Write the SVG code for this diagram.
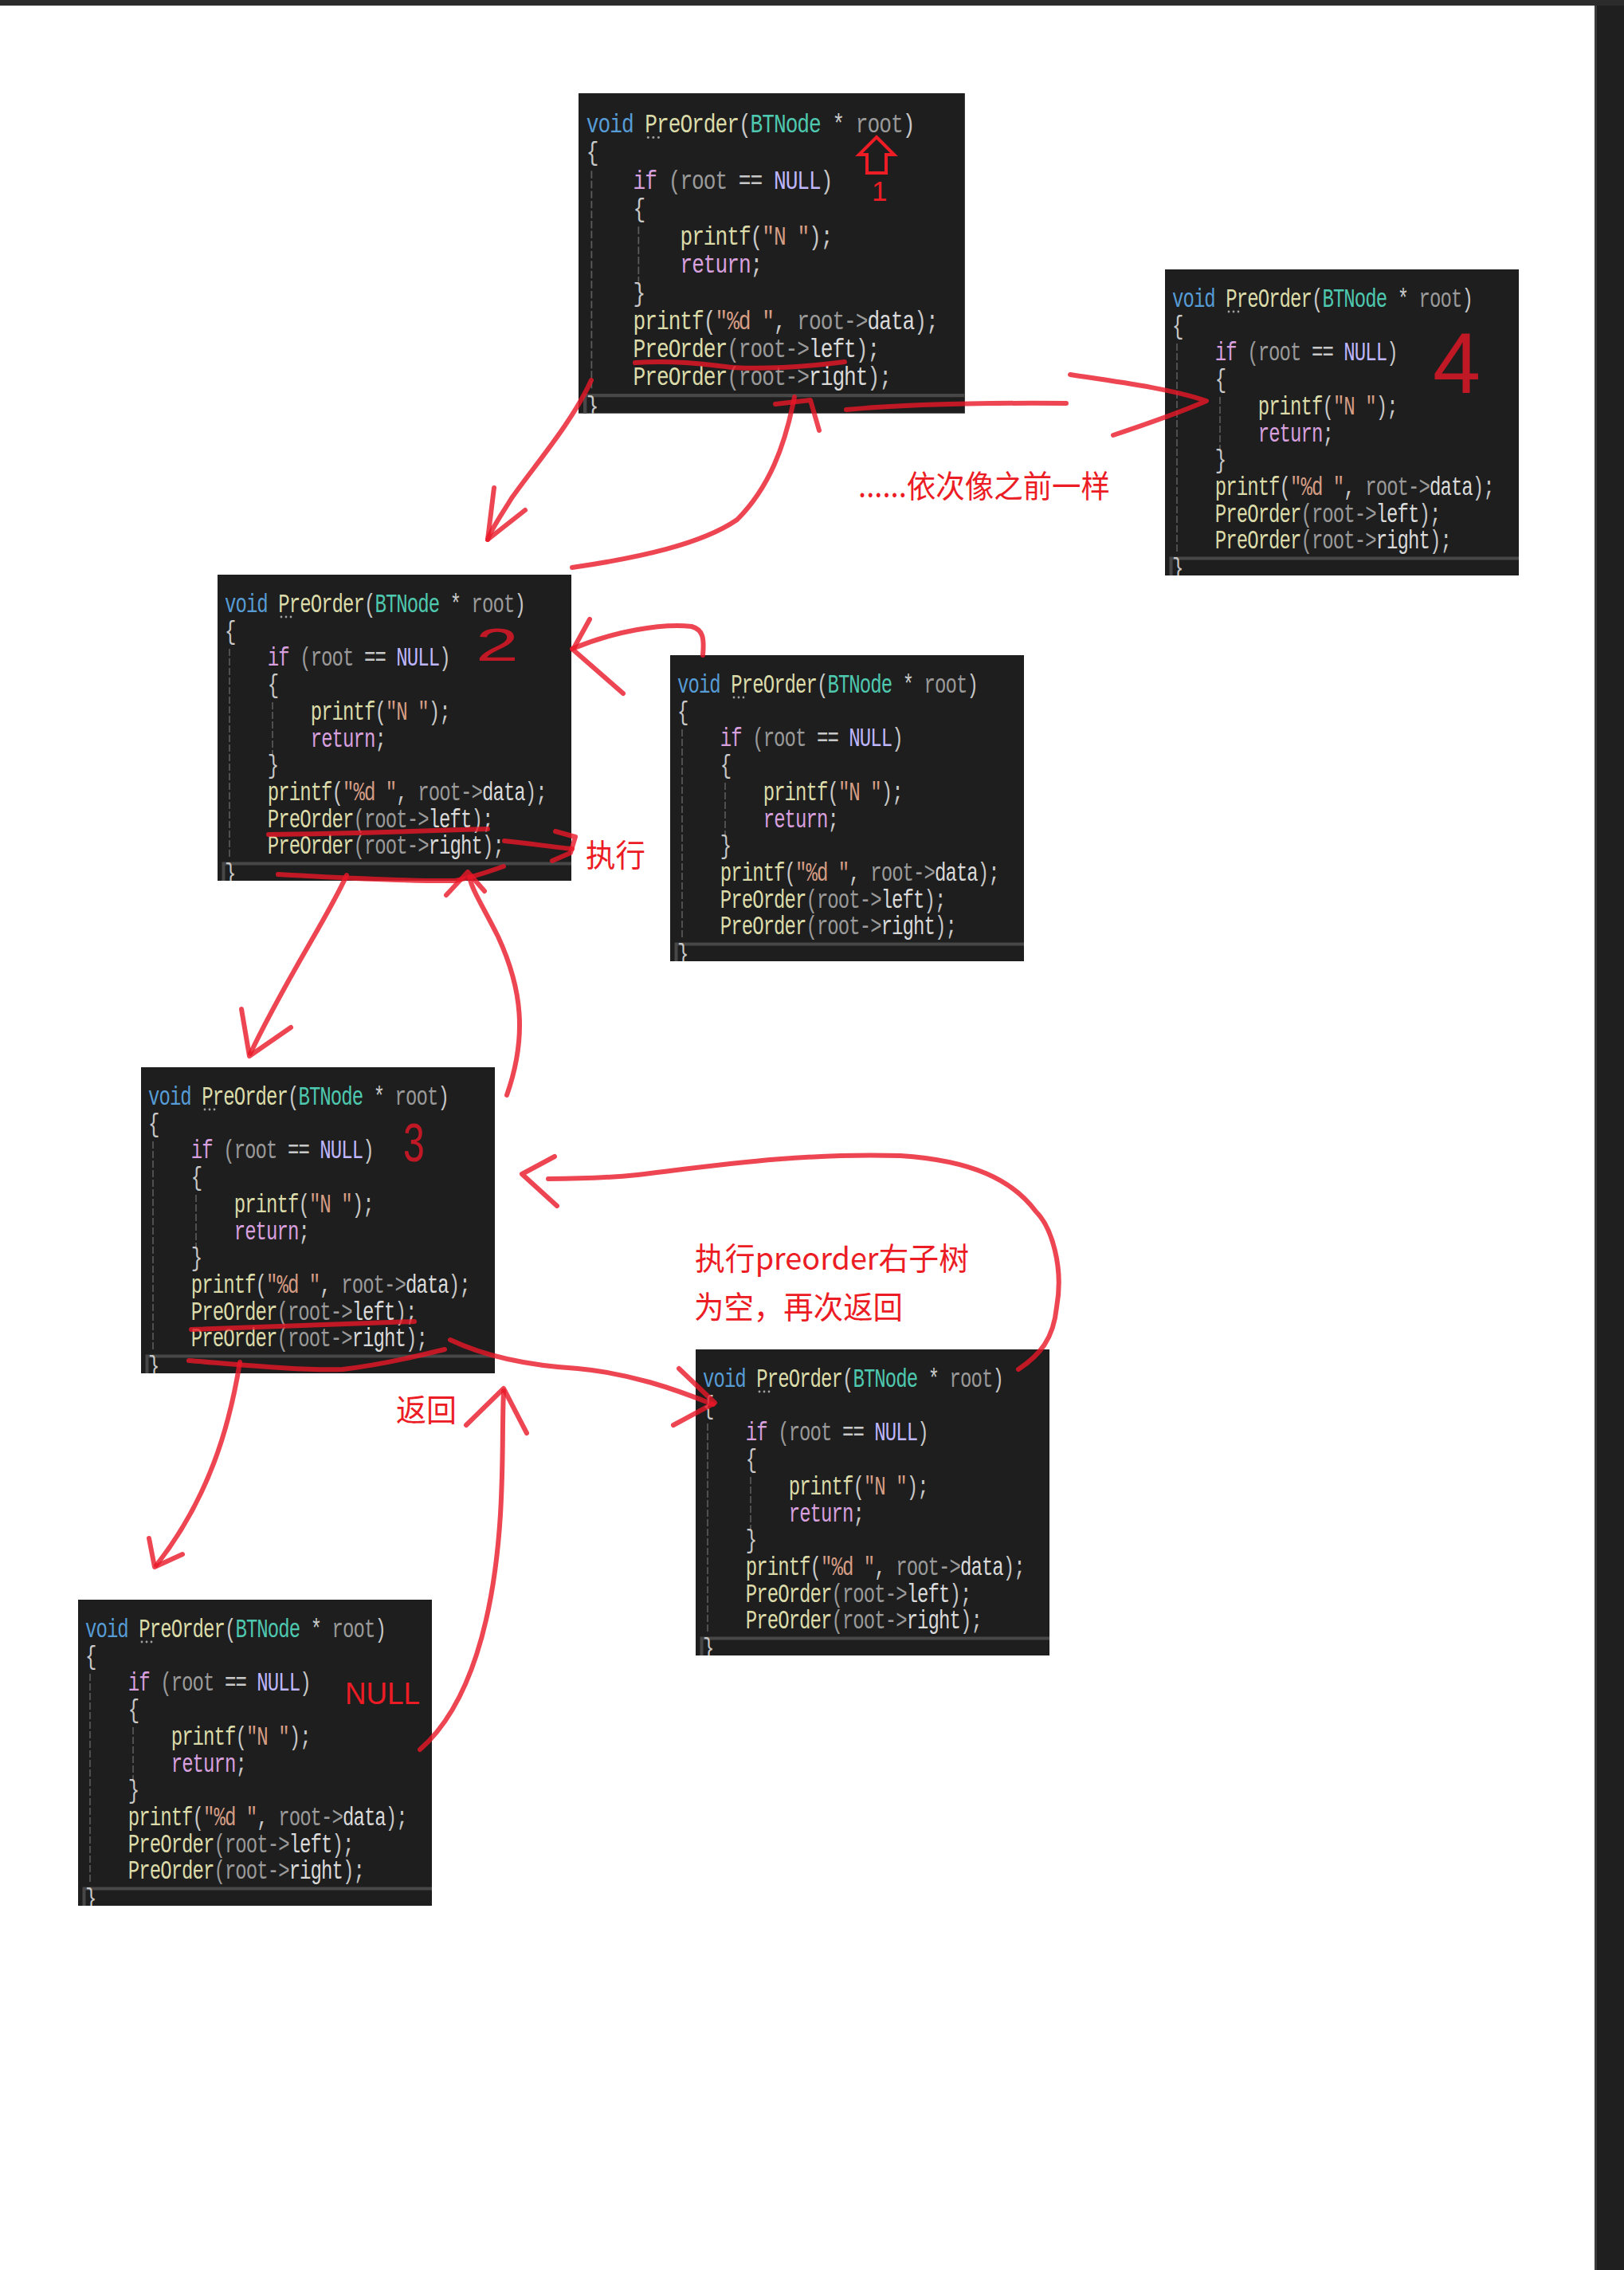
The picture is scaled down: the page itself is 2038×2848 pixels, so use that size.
<svg xmlns="http://www.w3.org/2000/svg" width="2038" height="2848" viewBox="0 0 2038 2848">
<style>
.bg{fill:#1e1e1e}
.guide{fill:none;stroke:#5c5c5c;stroke-width:1.6;stroke-dasharray:9 3}
.bar{fill:none;stroke:#474747;stroke-width:4}
.dots circle{fill:#a0a0a0}
.code{font-family:"Liberation Mono",monospace;font-size:24px;letter-spacing:-0.94px;white-space:pre;fill:#c8c8c8}
.kw{fill:#569cd6}.fn{fill:#dcdcaa}.ty{fill:#4ec9b0}.pa{fill:#9a9a9a}.ct{fill:#d8a0df}.mc{fill:#beb7ff}.st{fill:#d69d85}.fd{fill:#dadada}
.ink{fill:none;stroke:#ea1727;stroke-opacity:0.8;stroke-width:6;stroke-linecap:round;stroke-linejoin:round}
.hand{font-family:"Liberation Sans",sans-serif;fill:#ea1727;fill-opacity:0.8}
.lbl{font-family:"Noto Sans CJK SC","Liberation Sans",sans-serif;font-size:39px;fill:#ec1c24}
.mark{fill:none;stroke:#ee1c25;stroke-width:4;stroke-linejoin:miter}
</style>
<defs>
<clipPath id="clipbox"><rect width="444" height="384"/></clipPath>
</defs>
<rect width="2038" height="2848" fill="#ffffff"/>
<rect width="2038" height="7" fill="#2b2b2b"/>
<rect x="2001" y="7" width="37" height="2841" fill="#1f1f1f"/>
<rect x="2001" y="7" width="3" height="2841" fill="#3a3a3a"/>

<g id="node-1" transform="translate(726,117) scale(1.092,1.046)">
<rect class="bg" width="444" height="384"/>
<path class="guide" d="M15,93V356M69,160V226"/>
<g class="dots"><circle cx="80" cy="53" r="1.4"/><circle cx="86" cy="53" r="1.4"/><circle cx="92" cy="53" r="1.4"/></g>
<text class="code" transform="translate(9,47) scale(1,1.35)"><tspan class="kw">void</tspan> <tspan class="fn">PreOrder</tspan>(<tspan class="ty">BTNode</tspan> * <tspan class="pa">root</tspan>)</text>
<text class="code" transform="translate(9,80.7) scale(1,1.35)">{</text>
<text class="code" transform="translate(62.8,114.4) scale(1,1.35)"><tspan class="ct">if</tspan> <tspan class="pa">(root</tspan> == <tspan class="mc">NULL</tspan>)</text>
<text class="code" transform="translate(62.8,148.1) scale(1,1.35)">{</text>
<text class="code" transform="translate(116.7,181.8) scale(1,1.35)"><tspan class="fn">printf</tspan>(<tspan class="st">"N "</tspan>);</text>
<text class="code" transform="translate(116.7,215.5) scale(1,1.35)"><tspan class="ct">return</tspan>;</text>
<text class="code" transform="translate(62.8,249.2) scale(1,1.35)">}</text>
<text class="code" transform="translate(62.8,282.9) scale(1,1.35)"><tspan class="fn">printf</tspan>(<tspan class="st">"%d "</tspan>, <tspan class="pa">root-&gt;</tspan><tspan class="fd">data</tspan>);</text>
<text class="code" transform="translate(62.8,316.6) scale(1,1.35)"><tspan class="fn">PreOrder</tspan><tspan class="pa">(root-&gt;</tspan><tspan class="fd">left</tspan>);</text>
<text class="code" transform="translate(62.8,350.3) scale(1,1.35)"><tspan class="fn">PreOrder</tspan><tspan class="pa">(root-&gt;</tspan><tspan class="fd">right</tspan>);</text>
<path class="bar" d="M7.5,384V362.5H444"/>
<g clip-path="url(#clipbox)"><text class="code" transform="translate(9,385) scale(1,1.35)">}</text></g>
</g>

<g id="node-4" transform="translate(1462,338)">
<rect class="bg" width="444" height="384"/>
<path class="guide" d="M15,93V356M69,160V226"/>
<g class="dots"><circle cx="80" cy="53" r="1.4"/><circle cx="86" cy="53" r="1.4"/><circle cx="92" cy="53" r="1.4"/></g>
<text class="code" transform="translate(9,47) scale(1,1.35)"><tspan class="kw">void</tspan> <tspan class="fn">PreOrder</tspan>(<tspan class="ty">BTNode</tspan> * <tspan class="pa">root</tspan>)</text>
<text class="code" transform="translate(9,80.7) scale(1,1.35)">{</text>
<text class="code" transform="translate(62.8,114.4) scale(1,1.35)"><tspan class="ct">if</tspan> <tspan class="pa">(root</tspan> == <tspan class="mc">NULL</tspan>)</text>
<text class="code" transform="translate(62.8,148.1) scale(1,1.35)">{</text>
<text class="code" transform="translate(116.7,181.8) scale(1,1.35)"><tspan class="fn">printf</tspan>(<tspan class="st">"N "</tspan>);</text>
<text class="code" transform="translate(116.7,215.5) scale(1,1.35)"><tspan class="ct">return</tspan>;</text>
<text class="code" transform="translate(62.8,249.2) scale(1,1.35)">}</text>
<text class="code" transform="translate(62.8,282.9) scale(1,1.35)"><tspan class="fn">printf</tspan>(<tspan class="st">"%d "</tspan>, <tspan class="pa">root-&gt;</tspan><tspan class="fd">data</tspan>);</text>
<text class="code" transform="translate(62.8,316.6) scale(1,1.35)"><tspan class="fn">PreOrder</tspan><tspan class="pa">(root-&gt;</tspan><tspan class="fd">left</tspan>);</text>
<text class="code" transform="translate(62.8,350.3) scale(1,1.35)"><tspan class="fn">PreOrder</tspan><tspan class="pa">(root-&gt;</tspan><tspan class="fd">right</tspan>);</text>
<path class="bar" d="M7.5,384V362.5H444"/>
<g clip-path="url(#clipbox)"><text class="code" transform="translate(9,385) scale(1,1.35)">}</text></g>
</g>

<g id="node-2" transform="translate(273,721)">
<rect class="bg" width="444" height="384"/>
<path class="guide" d="M15,93V356M69,160V226"/>
<g class="dots"><circle cx="80" cy="53" r="1.4"/><circle cx="86" cy="53" r="1.4"/><circle cx="92" cy="53" r="1.4"/></g>
<text class="code" transform="translate(9,47) scale(1,1.35)"><tspan class="kw">void</tspan> <tspan class="fn">PreOrder</tspan>(<tspan class="ty">BTNode</tspan> * <tspan class="pa">root</tspan>)</text>
<text class="code" transform="translate(9,80.7) scale(1,1.35)">{</text>
<text class="code" transform="translate(62.8,114.4) scale(1,1.35)"><tspan class="ct">if</tspan> <tspan class="pa">(root</tspan> == <tspan class="mc">NULL</tspan>)</text>
<text class="code" transform="translate(62.8,148.1) scale(1,1.35)">{</text>
<text class="code" transform="translate(116.7,181.8) scale(1,1.35)"><tspan class="fn">printf</tspan>(<tspan class="st">"N "</tspan>);</text>
<text class="code" transform="translate(116.7,215.5) scale(1,1.35)"><tspan class="ct">return</tspan>;</text>
<text class="code" transform="translate(62.8,249.2) scale(1,1.35)">}</text>
<text class="code" transform="translate(62.8,282.9) scale(1,1.35)"><tspan class="fn">printf</tspan>(<tspan class="st">"%d "</tspan>, <tspan class="pa">root-&gt;</tspan><tspan class="fd">data</tspan>);</text>
<text class="code" transform="translate(62.8,316.6) scale(1,1.35)"><tspan class="fn">PreOrder</tspan><tspan class="pa">(root-&gt;</tspan><tspan class="fd">left</tspan>);</text>
<text class="code" transform="translate(62.8,350.3) scale(1,1.35)"><tspan class="fn">PreOrder</tspan><tspan class="pa">(root-&gt;</tspan><tspan class="fd">right</tspan>);</text>
<path class="bar" d="M7.5,384V362.5H444"/>
<g clip-path="url(#clipbox)"><text class="code" transform="translate(9,385) scale(1,1.35)">}</text></g>
</g>

<g id="node-2-right" transform="translate(841,822)">
<rect class="bg" width="444" height="384"/>
<path class="guide" d="M15,93V356M69,160V226"/>
<g class="dots"><circle cx="80" cy="53" r="1.4"/><circle cx="86" cy="53" r="1.4"/><circle cx="92" cy="53" r="1.4"/></g>
<text class="code" transform="translate(9,47) scale(1,1.35)"><tspan class="kw">void</tspan> <tspan class="fn">PreOrder</tspan>(<tspan class="ty">BTNode</tspan> * <tspan class="pa">root</tspan>)</text>
<text class="code" transform="translate(9,80.7) scale(1,1.35)">{</text>
<text class="code" transform="translate(62.8,114.4) scale(1,1.35)"><tspan class="ct">if</tspan> <tspan class="pa">(root</tspan> == <tspan class="mc">NULL</tspan>)</text>
<text class="code" transform="translate(62.8,148.1) scale(1,1.35)">{</text>
<text class="code" transform="translate(116.7,181.8) scale(1,1.35)"><tspan class="fn">printf</tspan>(<tspan class="st">"N "</tspan>);</text>
<text class="code" transform="translate(116.7,215.5) scale(1,1.35)"><tspan class="ct">return</tspan>;</text>
<text class="code" transform="translate(62.8,249.2) scale(1,1.35)">}</text>
<text class="code" transform="translate(62.8,282.9) scale(1,1.35)"><tspan class="fn">printf</tspan>(<tspan class="st">"%d "</tspan>, <tspan class="pa">root-&gt;</tspan><tspan class="fd">data</tspan>);</text>
<text class="code" transform="translate(62.8,316.6) scale(1,1.35)"><tspan class="fn">PreOrder</tspan><tspan class="pa">(root-&gt;</tspan><tspan class="fd">left</tspan>);</text>
<text class="code" transform="translate(62.8,350.3) scale(1,1.35)"><tspan class="fn">PreOrder</tspan><tspan class="pa">(root-&gt;</tspan><tspan class="fd">right</tspan>);</text>
<path class="bar" d="M7.5,384V362.5H444"/>
<g clip-path="url(#clipbox)"><text class="code" transform="translate(9,385) scale(1,1.35)">}</text></g>
</g>

<g id="node-3" transform="translate(177,1339)">
<rect class="bg" width="444" height="384"/>
<path class="guide" d="M15,93V356M69,160V226"/>
<g class="dots"><circle cx="80" cy="53" r="1.4"/><circle cx="86" cy="53" r="1.4"/><circle cx="92" cy="53" r="1.4"/></g>
<text class="code" transform="translate(9,47) scale(1,1.35)"><tspan class="kw">void</tspan> <tspan class="fn">PreOrder</tspan>(<tspan class="ty">BTNode</tspan> * <tspan class="pa">root</tspan>)</text>
<text class="code" transform="translate(9,80.7) scale(1,1.35)">{</text>
<text class="code" transform="translate(62.8,114.4) scale(1,1.35)"><tspan class="ct">if</tspan> <tspan class="pa">(root</tspan> == <tspan class="mc">NULL</tspan>)</text>
<text class="code" transform="translate(62.8,148.1) scale(1,1.35)">{</text>
<text class="code" transform="translate(116.7,181.8) scale(1,1.35)"><tspan class="fn">printf</tspan>(<tspan class="st">"N "</tspan>);</text>
<text class="code" transform="translate(116.7,215.5) scale(1,1.35)"><tspan class="ct">return</tspan>;</text>
<text class="code" transform="translate(62.8,249.2) scale(1,1.35)">}</text>
<text class="code" transform="translate(62.8,282.9) scale(1,1.35)"><tspan class="fn">printf</tspan>(<tspan class="st">"%d "</tspan>, <tspan class="pa">root-&gt;</tspan><tspan class="fd">data</tspan>);</text>
<text class="code" transform="translate(62.8,316.6) scale(1,1.35)"><tspan class="fn">PreOrder</tspan><tspan class="pa">(root-&gt;</tspan><tspan class="fd">left</tspan>);</text>
<text class="code" transform="translate(62.8,350.3) scale(1,1.35)"><tspan class="fn">PreOrder</tspan><tspan class="pa">(root-&gt;</tspan><tspan class="fd">right</tspan>);</text>
<path class="bar" d="M7.5,384V362.5H444"/>
<g clip-path="url(#clipbox)"><text class="code" transform="translate(9,385) scale(1,1.35)">}</text></g>
</g>

<g id="node-3-right" transform="translate(873,1693)">
<rect class="bg" width="444" height="384"/>
<path class="guide" d="M15,93V356M69,160V226"/>
<g class="dots"><circle cx="80" cy="53" r="1.4"/><circle cx="86" cy="53" r="1.4"/><circle cx="92" cy="53" r="1.4"/></g>
<text class="code" transform="translate(9,47) scale(1,1.35)"><tspan class="kw">void</tspan> <tspan class="fn">PreOrder</tspan>(<tspan class="ty">BTNode</tspan> * <tspan class="pa">root</tspan>)</text>
<text class="code" transform="translate(9,80.7) scale(1,1.35)">{</text>
<text class="code" transform="translate(62.8,114.4) scale(1,1.35)"><tspan class="ct">if</tspan> <tspan class="pa">(root</tspan> == <tspan class="mc">NULL</tspan>)</text>
<text class="code" transform="translate(62.8,148.1) scale(1,1.35)">{</text>
<text class="code" transform="translate(116.7,181.8) scale(1,1.35)"><tspan class="fn">printf</tspan>(<tspan class="st">"N "</tspan>);</text>
<text class="code" transform="translate(116.7,215.5) scale(1,1.35)"><tspan class="ct">return</tspan>;</text>
<text class="code" transform="translate(62.8,249.2) scale(1,1.35)">}</text>
<text class="code" transform="translate(62.8,282.9) scale(1,1.35)"><tspan class="fn">printf</tspan>(<tspan class="st">"%d "</tspan>, <tspan class="pa">root-&gt;</tspan><tspan class="fd">data</tspan>);</text>
<text class="code" transform="translate(62.8,316.6) scale(1,1.35)"><tspan class="fn">PreOrder</tspan><tspan class="pa">(root-&gt;</tspan><tspan class="fd">left</tspan>);</text>
<text class="code" transform="translate(62.8,350.3) scale(1,1.35)"><tspan class="fn">PreOrder</tspan><tspan class="pa">(root-&gt;</tspan><tspan class="fd">right</tspan>);</text>
<path class="bar" d="M7.5,384V362.5H444"/>
<g clip-path="url(#clipbox)"><text class="code" transform="translate(9,385) scale(1,1.35)">}</text></g>
</g>

<g id="node-null" transform="translate(98,2007)">
<rect class="bg" width="444" height="384"/>
<path class="guide" d="M15,93V356M69,160V226"/>
<g class="dots"><circle cx="80" cy="53" r="1.4"/><circle cx="86" cy="53" r="1.4"/><circle cx="92" cy="53" r="1.4"/></g>
<text class="code" transform="translate(9,47) scale(1,1.35)"><tspan class="kw">void</tspan> <tspan class="fn">PreOrder</tspan>(<tspan class="ty">BTNode</tspan> * <tspan class="pa">root</tspan>)</text>
<text class="code" transform="translate(9,80.7) scale(1,1.35)">{</text>
<text class="code" transform="translate(62.8,114.4) scale(1,1.35)"><tspan class="ct">if</tspan> <tspan class="pa">(root</tspan> == <tspan class="mc">NULL</tspan>)</text>
<text class="code" transform="translate(62.8,148.1) scale(1,1.35)">{</text>
<text class="code" transform="translate(116.7,181.8) scale(1,1.35)"><tspan class="fn">printf</tspan>(<tspan class="st">"N "</tspan>);</text>
<text class="code" transform="translate(116.7,215.5) scale(1,1.35)"><tspan class="ct">return</tspan>;</text>
<text class="code" transform="translate(62.8,249.2) scale(1,1.35)">}</text>
<text class="code" transform="translate(62.8,282.9) scale(1,1.35)"><tspan class="fn">printf</tspan>(<tspan class="st">"%d "</tspan>, <tspan class="pa">root-&gt;</tspan><tspan class="fd">data</tspan>);</text>
<text class="code" transform="translate(62.8,316.6) scale(1,1.35)"><tspan class="fn">PreOrder</tspan><tspan class="pa">(root-&gt;</tspan><tspan class="fd">left</tspan>);</text>
<text class="code" transform="translate(62.8,350.3) scale(1,1.35)"><tspan class="fn">PreOrder</tspan><tspan class="pa">(root-&gt;</tspan><tspan class="fd">right</tspan>);</text>
<path class="bar" d="M7.5,384V362.5H444"/>
<g clip-path="url(#clipbox)"><text class="code" transform="translate(9,385) scale(1,1.35)">}</text></g>
</g>

<g id="annotations">
<path class="ink" d="M797,455 C850,452 885,457 920,461 C970,464 1020,459 1060,454"/>
<path class="ink" d="M337,1047 C430,1046 520,1043 612,1040"/>
<path class="ink" d="M349,1097 C430,1101 510,1106 571,1105 C597,1100 617,1092 632,1087"/>
<path class="ink" d="M240,1668 C330,1665 420,1662 520,1658"/>
<path class="ink" d="M237,1707 C300,1712 380,1720 430,1718 C480,1712 530,1700 558,1693"/>
<polygon class="mark" points="1100,172 1122,194 1112,194 1112,217 1088,217 1088,194 1078,194"/>
<text x="1094" y="252" font-family="Liberation Sans, sans-serif" font-size="35" fill="#ee1c25">1</text>
<text class="hand" font-size="57" transform="translate(597,829) scale(1.7,1)">2</text>
<text class="hand" font-size="69" transform="translate(506,1457) scale(0.7,1)">3</text>
<text class="hand" font-size="108" transform="translate(1798,493) scale(1,1)">4</text>
<text class="lbl" x="1077" y="624" textLength="316" lengthAdjust="spacingAndGlyphs">......依次像之前一样</text>
<text class="lbl" x="735" y="1087" textLength="75" lengthAdjust="spacingAndGlyphs">执行</text>
<text class="lbl" x="872" y="1593" textLength="344" lengthAdjust="spacingAndGlyphs">执行preorder右子树</text>
<text class="lbl" x="871" y="1654" textLength="262" lengthAdjust="spacingAndGlyphs">为空，再次返回</text>
<text class="lbl" x="497" y="1783" textLength="76" lengthAdjust="spacingAndGlyphs">返回</text>
<text x="433" y="2138" font-family="Liberation Sans, sans-serif" font-size="39" fill="#ec1c24" textLength="94" lengthAdjust="spacingAndGlyphs">NULL</text>
</g>

<g id="connectors">
<path class="ink" d="M742,477 C718,530 670,585 642,625 C628,648 616,665 612,677"/>
<path class="ink" d="M620,612 L612,677 L659,640"/>
<path class="ink" d="M718,712 C800,700 880,683 925,652 C965,612 985,560 997,498"/>
<path class="ink" d="M973,507 L1017,502 L1028,540"/>
<path class="ink" d="M1062,514 C1130,508 1220,505 1338,506"/>
<path class="ink" d="M1343,470 C1410,480 1470,488 1514,503 C1475,520 1430,535 1397,546"/>
<path class="ink" d="M882,822 C884,800 882,790 868,786 C830,782 770,792 718,814"/>
<path class="ink" d="M740,777 L719,815 L782,870"/>
<path class="ink" d="M633,1055 C665,1058 695,1063 718,1065"/>
<path class="ink" d="M697,1043 L722,1050 L716,1070 L693,1080"/>
<path class="ink" d="M435,1098 C412,1150 362,1222 314,1322"/>
<path class="ink" d="M303,1266 L313,1325 L365,1289"/>
<path class="ink" d="M636,1374 C662,1300 655,1240 625,1175 C605,1135 593,1118 589,1100"/>
<path class="ink" d="M560,1123 L587,1094 L608,1118"/>
<path class="ink" d="M565,1681 C605,1700 660,1713 725,1717 C790,1723 845,1742 895,1762"/>
<path class="ink" d="M852,1717 L897,1760 L845,1788"/>
<path class="ink" d="M1278,1718 C1305,1700 1322,1680 1326,1640 C1335,1590 1320,1540 1300,1520 C1270,1480 1220,1456 1130,1450 C1010,1446 900,1462 800,1474 C760,1478 720,1479 688,1479"/>
<path class="ink" d="M696,1451 L655,1473 L699,1513"/>
<path class="ink" d="M301,1709 C288,1790 262,1880 196,1964"/>
<path class="ink" d="M187,1930 L194,1966 L229,1950"/>
<path class="ink" d="M527,2195 C590,2140 620,2030 628,1900 C632,1830 630,1790 632,1745"/>
<path class="ink" d="M585,1788 L632,1742 L661,1798"/>
</g>
</svg>
